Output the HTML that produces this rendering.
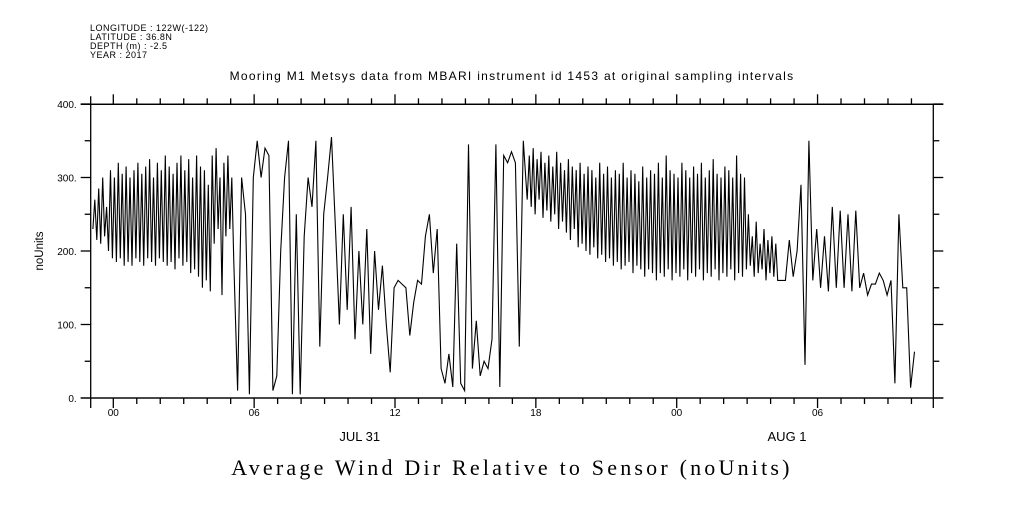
<!DOCTYPE html>
<html><head><meta charset="utf-8"><style>
body{margin:0;background:#fff;}
svg text{font-family:"Liberation Sans",sans-serif;fill:#000;}
</style></head><body>
<svg id="c" width="1009" height="504" xmlns="http://www.w3.org/2000/svg">
<g font-size="9" letter-spacing="0.5">
<text x="90" y="31">LONGITUDE : 122W(-122)</text>
<text x="90" y="40">LATITUDE : 36.8N</text>
<text x="90" y="49">DEPTH (m) : -2.5</text>
<text x="90" y="58">YEAR : 2017</text>
</g>
<text x="512" y="80" font-size="12" letter-spacing="1.3" text-anchor="middle">Mooring M1 Metsys data from MBARI instrument id 1453 at original sampling intervals</text>
<text transform="translate(43,251) rotate(-90)" font-size="11.5" text-anchor="middle">noUnits</text>
<text x="512" y="475" font-size="22" letter-spacing="3.2" text-anchor="middle" style="font-family:'Liberation Serif',serif">Average Wind Dir Relative to Sensor (noUnits)</text>
<g id="axes"></g>
<g id="ser"></g>
</svg>
<script>
const yTicks=[0,100,200,300,400];
const yTickLabels=["0.","100.","200.","300.","400."];
const xMajorHours=[0,6,12,18,24,30];
const xMajorLabels=["00","06","12","18","00","06"];
const dateLabels=["JUL 31","AUG 1"];
const dateHours=[10.5,28.7];
// segment A: dense, 5-min samples
const startA=-0.87, stepA=1/12;
const valuesA=[230,270,215,285,210,300,220,260,200,310,190,300,185,320,190,305,180,315,185,300,180,310,190,320,185,305,180,315,190,325,185,300,180,320,190,310,185,330,180,315,185,305,175,320,190,330,180,310,185,325,170,300,175,330,165,315,150,310,160,290,145,330,210,340,230,300,140,320,220,330,230,300];
// segment B: 10-min samples
const startB=5.13, stepB=1/6;
const valuesB=[190,10,300,250,5,300,350,300,340,330,10,30,200,300,350,5,250,5,220,300,260,350,70,250,300,355,230,100,250,120,260,80,200,100,230,60,200,120,180,100,35,150,160,155,150,85,130,160,155,220,250,170,230,40,20,60,15,210,20,10,345,40,105,30,50,40,80,345,15,330,320,335,320,70,350,270];
// segment C: dense, 5-min samples
const startC=17.72, stepC=1/12;
const valuesC=[330,260,340,250,325,270,335,245,320,255,330,240,315,250,335,230,320,240,310,225,325,215,315,230,310,205,320,210,305,200,315,195,310,205,300,190,320,195,305,185,315,190,300,180,310,185,305,175,320,180,300,185,310,170,305,180,295,175,315,165,300,175,310,170,305,160,320,170,300,165,330,175,310,160,305,170,300,165,320,175,310,160,300,170,315,165,305,175,320,160,300,170,310,165,325,175,305,160,300,170,315,165,310,175,300,160,330,170,305,165,300,175,250,180,220,165,240,170,210,175,230,160,215,170,220,165,210,160];
// segment D: 10-min samples
const startD=28.63, stepD=1/6;
const valuesD=[160,215,165,200,290,45,350,160,230,150,220,145,260,150,255,150,250,145,255,150,170,140,155,155,170,160,140,160,20,250,150,150,14,63];
const X0=113.3,PXH=23.475,Y0=398,PYU=0.735;
const L=90.7,R=933.3,T=104.3,B=398;
function xs(h){return X0+h*PXH;}
function ys(v){return Y0-v*PYU;}
const NS="http://www.w3.org/2000/svg";
const ax=document.getElementById('axes');
function ln(x1,y1,x2,y2,name){const e=document.createElementNS(NS,'line');e.setAttribute('x1',x1);e.setAttribute('y1',y1);e.setAttribute('x2',x2);e.setAttribute('y2',y2);e.setAttribute('stroke','#000');e.setAttribute('stroke-width','1.3');


ax.appendChild(e);}
function tx(x,y,s,anc,size,name){const e=document.createElementNS(NS,'text');e.setAttribute('x',x);e.setAttribute('y',y);e.setAttribute('text-anchor',anc);e.setAttribute('font-size',size);e.textContent=s;


ax.appendChild(e);}
ln(L,T,R,T,'plot-frame-top');ln(L,B,R,B,'plot-frame-bottom');ln(L,T-8,L,B+10,'y-axis-left');ln(R,T,R,B+10,'y-axis-right');
ln(L-10,T,R+10,T,'top-axis-line');ln(L-10,B,R+10,B,'bottom-axis-line');
for(let v=0;v<=400;v+=50){const y=ys(v);const len=(v%100===0)?10:6;ln(L-len,y,L,y,'y-tick');ln(R,y,R+len,y,'y-tick-right');}
yTicks.forEach((v,i)=>tx(L-14,ys(v)+4,yTickLabels[i],'end',10,'y-tick-label'));
for(let h=0;h<=35;h++){const x=xs(h);if(x>R+1)break;const maj=(h%6===0);ln(x,B,x,B+(maj?10:6),'x-tick');ln(x,T,x,T-(maj?10:6),'x-tick-top');}
xMajorHours.forEach((h,i)=>tx(xs(h),416,xMajorLabels[i],'middle',10,'x-tick-label'));
dateLabels.forEach((s,i)=>tx(xs(dateHours[i]),441,s,'middle',13,'date-label'));
let d='';let first=true;
function addSeg(vals,start,step){vals.forEach((v,i)=>{const x=xs(start+i*step);d+=(first?'M':'L')+x.toFixed(1)+' '+ys(v).toFixed(1)+' ';first=false;});}
addSeg(valuesA,startA,stepA);addSeg(valuesB,startB,stepB);addSeg(valuesC,startC,stepC);addSeg(valuesD,startD,stepD);
const p=document.createElementNS(NS,'path');p.setAttribute('d',d);p.setAttribute('fill','none');p.setAttribute('stroke','#000');p.setAttribute('stroke-width','1.1');


document.getElementById('ser').appendChild(p);
</script>
</body></html>
